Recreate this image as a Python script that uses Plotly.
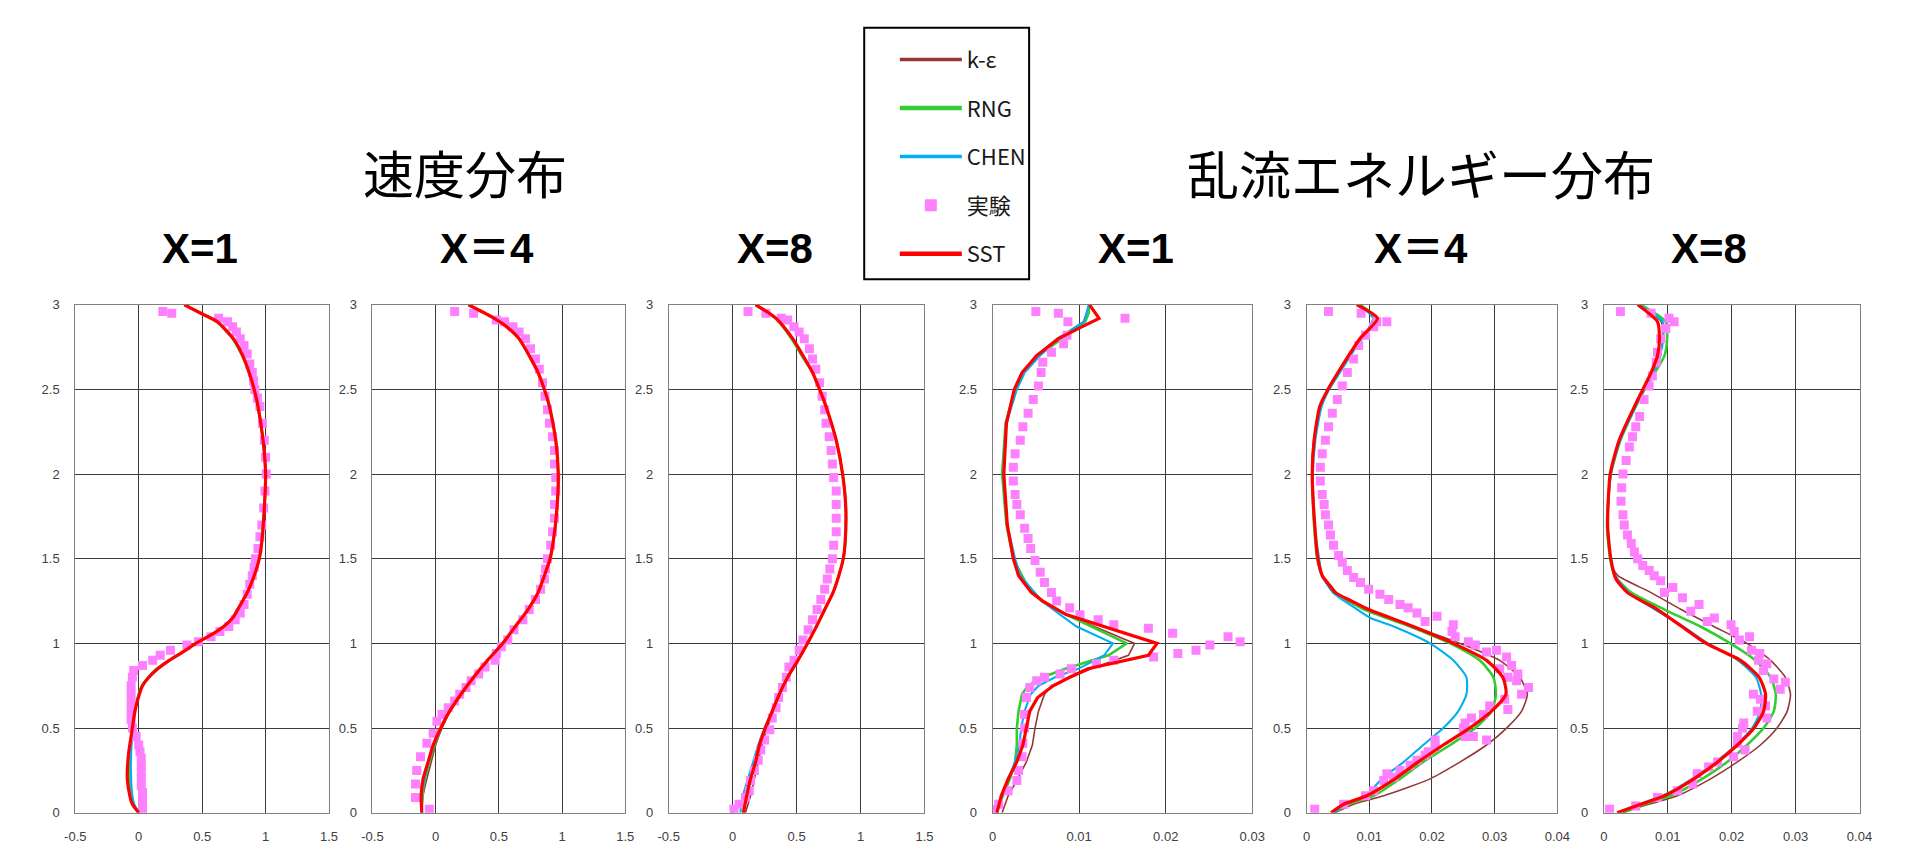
import plotly.graph_objects as go

W, H = 1906, 853

# ---------------- data (y, x) pairs ----------------
# Panel 1: velocity X=1
p1_ke = [(0,0.0),(0.05,-0.045),(0.1,-0.065),(0.2,-0.08),(0.35,-0.075),(0.5,-0.05),(0.6,-0.03),(0.7,0.0),(0.75,0.03),(0.8,0.08),(0.85,0.15),(0.9,0.24),(0.95,0.35),(1.0,0.45),(1.05,0.57),(1.1,0.67),(1.15,0.74),(1.2,0.78),(1.3,0.855),(1.4,0.91),(1.5,0.95),(1.6,0.97),(1.8,0.99),(2.0,1.0),(2.2,0.98),(2.4,0.94),(2.5,0.91),(2.6,0.87),(2.7,0.82),(2.8,0.745),(2.9,0.62),(2.95,0.49),(3.0,0.36)]
p1_rng = [(0,0.0),(0.05,-0.04),(0.1,-0.06),(0.2,-0.075),(0.35,-0.07),(0.5,-0.05),(0.6,-0.03),(0.7,0.0),(0.75,0.025),(0.8,0.075),(0.85,0.14),(0.9,0.24),(0.95,0.345),(1.0,0.45),(1.05,0.57),(1.1,0.67),(1.15,0.74),(1.2,0.78),(1.3,0.855),(1.4,0.91),(1.5,0.95),(1.6,0.97),(1.8,0.99),(2.0,1.0),(2.2,0.98),(2.4,0.94),(2.5,0.91),(2.6,0.87),(2.7,0.815),(2.8,0.74),(2.9,0.615),(2.95,0.49),(3.0,0.36)]
p1_chen = [(0,0.0),(0.05,-0.035),(0.1,-0.05),(0.2,-0.06),(0.35,-0.06),(0.5,-0.045),(0.6,-0.03),(0.7,0.0),(0.75,0.03),(0.8,0.08),(0.85,0.15),(0.9,0.245),(0.95,0.35),(1.0,0.45),(1.05,0.57),(1.1,0.67),(1.15,0.74),(1.2,0.78),(1.3,0.855),(1.4,0.91),(1.5,0.95),(1.6,0.97),(1.8,0.99),(2.0,1.0),(2.2,0.98),(2.4,0.94),(2.5,0.91),(2.6,0.87),(2.7,0.82),(2.8,0.75),(2.9,0.62),(2.95,0.49),(3.0,0.36)]
p1_sst = [(0,0.0),(0.05,-0.05),(0.1,-0.07),(0.2,-0.09),(0.35,-0.08),(0.5,-0.05),(0.6,-0.03),(0.7,0.005),(0.75,0.03),(0.8,0.08),(0.85,0.15),(0.9,0.24),(0.95,0.35),(1.0,0.45),(1.05,0.57),(1.1,0.67),(1.15,0.74),(1.2,0.78),(1.3,0.855),(1.4,0.91),(1.5,0.95),(1.6,0.97),(1.8,0.99),(2.0,1.0),(2.2,0.98),(2.4,0.94),(2.5,0.91),(2.6,0.87),(2.7,0.82),(2.8,0.745),(2.9,0.62),(2.95,0.49),(3.0,0.36)]
p1_exp = [(0.0,0.03),(0.04,0.03),(0.08,0.03),(0.12,0.03),(0.16,0.02),(0.2,0.02),(0.24,0.02),(0.28,0.02),(0.32,0.02),(0.36,0.01),(0.4,0.0),(0.45,-0.02),(0.5,-0.05),(0.55,-0.06),(0.6,-0.06),(0.65,-0.06),(0.7,-0.06),(0.75,-0.06),(0.8,-0.05),(0.84,-0.04),(0.87,0.03),(0.9,0.11),(0.93,0.17),(0.96,0.25),(0.99,0.38),(1.01,0.47),(1.04,0.57),(1.07,0.64),(1.1,0.71),(1.14,0.76),(1.18,0.8),(1.23,0.83),(1.29,0.855),(1.35,0.875),(1.4,0.895),(1.45,0.91),(1.5,0.92),(1.56,0.94),(1.63,0.955),(1.7,0.97),(1.8,0.985),(1.9,0.995),(2.0,1.005),(2.1,1.0),(2.2,0.99),(2.3,0.975),(2.4,0.955),(2.45,0.935),(2.5,0.915),(2.55,0.905),(2.6,0.895),(2.65,0.875),(2.71,0.855),(2.76,0.83),(2.8,0.8),(2.84,0.77),(2.87,0.74),(2.9,0.7),(2.92,0.63),(2.95,0.26),(2.96,0.19)]

# Panel 2: velocity X=4
p2_common = [(0.6,0.11),(0.7,0.2),(0.8,0.3),(0.9,0.41),(1.0,0.53),(1.1,0.63),(1.2,0.73),(1.3,0.81),(1.4,0.86),(1.5,0.905),(1.6,0.93),(1.8,0.96),(2.0,0.97),(2.2,0.95),(2.4,0.9),(2.5,0.86),(2.6,0.81),(2.7,0.74),(2.8,0.66),(2.88,0.545),(2.93,0.44),(3.0,0.26)]
p2_ke = [(0,-0.11),(0.1,-0.1),(0.2,-0.07),(0.3,-0.035),(0.4,0.0),(0.5,0.05)] + [(0.6,0.115)] + p2_common[1:]
p2_rng = [(0,-0.11),(0.1,-0.105),(0.2,-0.085),(0.3,-0.05),(0.4,-0.01),(0.5,0.045)] + p2_common
p2_chen = [(0,-0.11),(0.1,-0.11),(0.2,-0.09),(0.3,-0.055),(0.4,-0.015),(0.5,0.045)] + p2_common
p2_sst = [(0,-0.11),(0.1,-0.115),(0.2,-0.1),(0.3,-0.06),(0.4,-0.02),(0.5,0.04)] + p2_common
p2_exp = [(0.02,-0.05),(0.09,-0.16),(0.17,-0.16),(0.25,-0.15),(0.33,-0.12),(0.41,-0.07),(0.47,-0.02),(0.54,0.01),(0.58,0.05),(0.62,0.1),(0.66,0.15),(0.7,0.19),(0.74,0.24),(0.78,0.28),(0.82,0.34),(0.86,0.39),(0.9,0.47),(0.94,0.48),(0.98,0.52),(1.02,0.57),(1.08,0.62),(1.14,0.69),(1.2,0.74),(1.26,0.79),(1.32,0.83),(1.38,0.86),(1.44,0.87),(1.5,0.885),(1.58,0.91),(1.66,0.925),(1.74,0.94),(1.82,0.94),(1.9,0.95),(1.98,0.95),(2.06,0.94),(2.14,0.94),(2.22,0.925),(2.3,0.9),(2.38,0.885),(2.46,0.865),(2.54,0.845),(2.62,0.82),(2.68,0.79),(2.74,0.75),(2.8,0.71),(2.84,0.66),(2.87,0.61),(2.9,0.545),(2.91,0.48),(2.95,0.3),(2.96,0.15)]

# Panel 3: velocity X=8
p3_common = [(0.6,0.31),(0.7,0.365),(0.8,0.43),(0.9,0.51),(1.0,0.585),(1.1,0.655),(1.2,0.72),(1.3,0.785),(1.4,0.83),(1.5,0.865),(1.6,0.88),(1.8,0.885),(2.0,0.86),(2.2,0.81),(2.4,0.73),(2.5,0.68),(2.6,0.625),(2.7,0.55),(2.8,0.47),(2.92,0.34),(3.0,0.18)]
p3_ke = [(0,0.1),(0.1,0.14),(0.2,0.17),(0.3,0.2),(0.4,0.23),(0.5,0.27),(0.6,0.32),(0.7,0.37)] + p3_common[2:]
p3_rng = [(0,0.08),(0.1,0.105),(0.2,0.135),(0.3,0.175),(0.4,0.21),(0.5,0.255)] + p3_common[:-4] + [(2.7,0.54),(2.8,0.46),(2.92,0.335),(3.0,0.18)]
p3_chen = [(0,0.06),(0.1,0.08),(0.2,0.12),(0.3,0.16),(0.4,0.2),(0.5,0.25)] + p3_common
p3_sst = [(0,0.085),(0.1,0.11),(0.2,0.14),(0.3,0.18),(0.4,0.21),(0.5,0.255)] + p3_common
p3_exp = [(0.02,0.01),(0.05,0.05),(0.09,0.1),(0.13,0.13),(0.19,0.14),(0.25,0.17),(0.31,0.2),(0.37,0.22),(0.43,0.25),(0.49,0.29),(0.56,0.31),(0.62,0.34),(0.68,0.36),(0.74,0.39),(0.8,0.42),(0.86,0.44),(0.9,0.48),(0.96,0.52),(1.02,0.55),(1.08,0.59),(1.14,0.625),(1.2,0.66),(1.26,0.69),(1.32,0.72),(1.38,0.74),(1.44,0.76),(1.5,0.78),(1.58,0.79),(1.66,0.81),(1.74,0.81),(1.82,0.81),(1.9,0.81),(1.98,0.79),(2.06,0.78),(2.14,0.77),(2.22,0.755),(2.3,0.73),(2.38,0.72),(2.46,0.7),(2.54,0.68),(2.62,0.65),(2.68,0.625),(2.74,0.6),(2.8,0.56),(2.84,0.52),(2.87,0.48),(2.91,0.43),(2.92,0.38),(2.95,0.26),(2.96,0.12)]

# Panel 4: turbulent energy X=1
p4_ke = [(0,0.0011),(0.1,0.0018),(0.2,0.0029),(0.3,0.0039),(0.4,0.0046),(0.5,0.0049),(0.6,0.0053),(0.7,0.006),(0.75,0.0068),(0.8,0.0091),(0.85,0.0114),(0.93,0.0157),(1.0,0.0164),(1.17,0.0085),(1.25,0.0058),(1.3,0.0045),(1.4,0.003),(1.5,0.0024),(1.7,0.0017),(2.0,0.0013),(2.3,0.0016),(2.5,0.0025),(2.6,0.0034),(2.7,0.005),(2.8,0.0075),(2.9,0.0105),(3.0,0.0112)]
p4_rng = [(0,0.0003),(0.1,0.0012),(0.2,0.002),(0.3,0.0026),(0.4,0.0028),(0.5,0.0028),(0.6,0.003),(0.7,0.0034),(0.75,0.0041),(0.8,0.0058),(0.85,0.0084),(0.93,0.0134),(1.0,0.0155),(1.17,0.0085),(1.25,0.0057),(1.35,0.0039),(1.5,0.0024),(1.7,0.0016),(2.0,0.0011),(2.3,0.0015),(2.5,0.0026),(2.6,0.0035),(2.7,0.0053),(2.8,0.008),(2.9,0.0107),(2.95,0.0111),(3.0,0.0112)]
p4_chen = [(0,0.0005),(0.1,0.0011),(0.2,0.0018),(0.3,0.0026),(0.4,0.0031),(0.5,0.0033),(0.6,0.0037),(0.7,0.0044),(0.75,0.0053),(0.8,0.0072),(0.85,0.0099),(0.93,0.0129),(1.0,0.0139),(1.1,0.0097),(1.17,0.0078),(1.25,0.0057),(1.4,0.0032),(1.5,0.0026),(1.7,0.0017),(2.0,0.0012),(2.3,0.0016),(2.5,0.0028),(2.6,0.0037),(2.7,0.0055),(2.8,0.0075),(2.9,0.0106),(3.0,0.0111)]
p4_sst = [(0,0.0005),(0.1,0.001),(0.2,0.0018),(0.3,0.0028),(0.4,0.0035),(0.5,0.0039),(0.6,0.0043),(0.68,0.0052),(0.75,0.007),(0.8,0.0089),(0.85,0.011),(0.93,0.018),(1.0,0.019),(1.17,0.0085),(1.25,0.0058),(1.3,0.0045),(1.4,0.003),(1.5,0.0024),(1.7,0.0017),(2.0,0.0013),(2.3,0.0016),(2.5,0.0025),(2.6,0.0034),(2.7,0.0051),(2.8,0.0076),(2.87,0.0103),(2.92,0.0123),(3.0,0.0112)]
p4_exp = [(0.02,0.0),(0.05,0.0007),(0.13,0.0018),(0.19,0.0028),(0.25,0.003),(0.33,0.0034),(0.41,0.0035),(0.5,0.0037),(0.58,0.0037),(0.68,0.0039),(0.74,0.0043),(0.78,0.0051),(0.8,0.006),(0.82,0.0078),(0.85,0.0091),(0.88,0.012),(0.9,0.014),(0.92,0.0186),(0.94,0.0214),(0.96,0.0235),(0.99,0.0251),(1.01,0.0286),(1.04,0.0272),(1.06,0.0208),(1.09,0.018),(1.11,0.014),(1.14,0.0122),(1.17,0.0101),(1.21,0.0089),(1.25,0.0074),(1.3,0.0068),(1.36,0.006),(1.42,0.0055),(1.49,0.0049),(1.56,0.0044),(1.62,0.0041),(1.68,0.0037),(1.76,0.0032),(1.82,0.0028),(1.88,0.0026),(1.96,0.0024),(2.04,0.0024),(2.12,0.0026),(2.2,0.0032),(2.28,0.0035),(2.36,0.0041),(2.44,0.0047),(2.52,0.0053),(2.6,0.0056),(2.66,0.0058),(2.72,0.0068),(2.77,0.0082),(2.82,0.0086),(2.9,0.0087),(2.95,0.0076),(2.96,0.005),(2.92,0.0153)]

# Panel 5: turbulent energy X=4
p5_ke = [(0,0.0045),(0.05,0.0075),(0.1,0.0123),(0.2,0.0197),(0.3,0.0245),(0.4,0.0287),(0.5,0.0319),(0.6,0.0343),(0.7,0.0352),(0.8,0.034),(0.9,0.0308),(1.0,0.0245),(1.1,0.017),(1.2,0.0095),(1.25,0.0065),(1.3,0.0048),(1.35,0.0037),(1.4,0.0026),(1.5,0.0019),(1.7,0.0013),(2.0,0.001),(2.2,0.0013),(2.4,0.0022),(2.5,0.0034),(2.6,0.005),(2.7,0.0067),(2.8,0.0086),(2.92,0.0112),(3.0,0.0081)]
p5_rng = [(0,0.0045),(0.05,0.0065),(0.1,0.0107),(0.2,0.0149),(0.3,0.0186),(0.4,0.0229),(0.5,0.0269),(0.6,0.0295),(0.7,0.0302),(0.8,0.0298),(0.9,0.0276),(1.0,0.0229),(1.1,0.0165),(1.2,0.0092),(1.25,0.0068),(1.3,0.0046),(1.35,0.0034),(1.4,0.0025),(1.5,0.0017),(1.7,0.0012),(2.0,0.0009),(2.2,0.0012),(2.4,0.0022),(2.5,0.0035),(2.6,0.0052),(2.7,0.0069),(2.8,0.0087),(2.92,0.0111),(3.0,0.0085)]
p5_chen = [(0,0.0045),(0.05,0.0062),(0.1,0.0094),(0.2,0.012),(0.3,0.0155),(0.4,0.0186),(0.5,0.0218),(0.6,0.0242),(0.7,0.0255),(0.8,0.0255),(0.9,0.0234),(1.0,0.0197),(1.1,0.0139),(1.15,0.0102),(1.2,0.0081),(1.3,0.0042),(1.4,0.0025),(1.5,0.002),(1.7,0.0013),(2.0,0.001),(2.2,0.0014),(2.4,0.0024),(2.5,0.0036),(2.6,0.0053),(2.7,0.007),(2.8,0.0088),(2.92,0.0106),(3.0,0.0083)]
p5_sst = [(0,0.0039),(0.05,0.0059),(0.1,0.0096),(0.2,0.0141),(0.3,0.0178),(0.4,0.0218),(0.5,0.026),(0.6,0.0295),(0.7,0.0318),(0.8,0.0313),(0.9,0.0287),(1.0,0.0234),(1.1,0.017),(1.2,0.0099),(1.25,0.0072),(1.3,0.0046),(1.35,0.0035),(1.4,0.0025),(1.5,0.0018),(1.7,0.0013),(2.0,0.0009),(2.2,0.0012),(2.4,0.0021),(2.5,0.0034),(2.6,0.005),(2.7,0.0067),(2.8,0.0085),(2.92,0.0113),(3.0,0.008)]
p5_exp = [(0.02,0.0013),(0.05,0.0059),(0.1,0.0094),(0.13,0.0107),(0.19,0.0123),(0.23,0.0128),(0.21,0.0139),(0.25,0.0149),(0.28,0.0165),(0.31,0.0176),(0.34,0.0189),(0.36,0.0194),(0.39,0.0205),(0.43,0.0205),(0.45,0.0253),(0.45,0.0266),(0.43,0.0287),(0.5,0.025),(0.53,0.0253),(0.56,0.0263),(0.58,0.0282),(0.63,0.0292),(0.61,0.0321),(0.67,0.0316),(0.7,0.0343),(0.74,0.0354),(0.78,0.0335),(0.8,0.0321),(0.82,0.0337),(0.85,0.0308),(0.87,0.0327),(0.92,0.0319),(0.96,0.0303),(0.95,0.0287),(0.99,0.0269),(1.01,0.0258),(1.04,0.0237),(1.07,0.0232),(1.11,0.0234),(1.16,0.0208),(1.13,0.0189),(1.18,0.0176),(1.21,0.0162),(1.23,0.0149),(1.26,0.0131),(1.29,0.0117),(1.32,0.0099),(1.36,0.0086),(1.39,0.0075),(1.43,0.0065),(1.48,0.0057),(1.52,0.0051),(1.58,0.0043),(1.64,0.0038),(1.7,0.0035),(1.76,0.003),(1.82,0.0028),(1.88,0.0025),(1.96,0.0022),(2.04,0.0022),(2.12,0.0025),(2.2,0.003),(2.28,0.0035),(2.36,0.0041),(2.44,0.0049),(2.52,0.0057),(2.6,0.0065),(2.68,0.0075),(2.76,0.0083),(2.82,0.0094),(2.87,0.0107),(2.9,0.0112),(2.9,0.0128),(2.95,0.0087),(2.96,0.0035)]

# Panel 6: turbulent energy X=8
p6_ke = [(0,0.003),(0.05,0.007),(0.1,0.0115),(0.2,0.0167),(0.3,0.0209),(0.4,0.0245),(0.5,0.0271),(0.6,0.0287),(0.7,0.0292),(0.8,0.0284),(0.9,0.0261),(1.0,0.0224),(1.1,0.0172),(1.2,0.0121),(1.3,0.0074),(1.4,0.0022),(1.45,0.0014),(1.5,0.0011),(1.7,0.0006),(2.0,0.001),(2.2,0.0025),(2.4,0.0049),(2.5,0.0062),(2.6,0.0076),(2.7,0.0088),(2.8,0.0092),(2.9,0.009),(3.0,0.0055)]
p6_rng = [(0,0.003),(0.05,0.0062),(0.1,0.0105),(0.2,0.0154),(0.3,0.0193),(0.4,0.0224),(0.5,0.025),(0.6,0.0266),(0.7,0.0269),(0.8,0.0261),(0.9,0.0237),(1.0,0.0198),(1.1,0.0151),(1.2,0.0095),(1.3,0.0043),(1.4,0.0017),(1.5,0.001),(1.7,0.0005),(2.0,0.0011),(2.2,0.0026),(2.4,0.005),(2.5,0.0064),(2.6,0.008),(2.7,0.0095),(2.8,0.0099),(2.9,0.0097),(3.0,0.0058)]
p6_chen = [(0,0.0021),(0.05,0.0055),(0.1,0.0092),(0.2,0.0138),(0.3,0.0175),(0.4,0.0207),(0.5,0.0232),(0.6,0.0245),(0.7,0.0246),(0.8,0.0238),(0.9,0.021),(1.0,0.0163),(1.1,0.0124),(1.2,0.008),(1.3,0.0039),(1.4,0.0018),(1.5,0.0011),(1.7,0.0006),(2.0,0.0011),(2.2,0.0026),(2.4,0.005),(2.5,0.0063),(2.6,0.0077),(2.7,0.0088),(2.8,0.0093),(2.9,0.0092),(3.0,0.0055)]
p6_sst = [(0,0.0021),(0.05,0.0058),(0.1,0.0095),(0.2,0.0141),(0.3,0.0178),(0.4,0.0209),(0.5,0.0235),(0.6,0.025),(0.7,0.0253),(0.8,0.0243),(0.9,0.0214),(1.0,0.016),(1.1,0.0122),(1.2,0.0084),(1.3,0.0037),(1.38,0.0019),(1.5,0.0011),(1.7,0.0006),(2.0,0.001),(2.2,0.0024),(2.4,0.0048),(2.5,0.0061),(2.6,0.0074),(2.7,0.0084),(2.8,0.0087),(2.9,0.0084),(3.0,0.0053)]
p6_exp = [(0.02,0.0009),(0.04,0.005),(0.09,0.0084),(0.13,0.0115),(0.17,0.0139),(0.23,0.0146),(0.27,0.0164),(0.3,0.0178),(0.33,0.0203),(0.37,0.0221),(0.41,0.0209),(0.45,0.0209),(0.5,0.0217),(0.53,0.0219),(0.56,0.0255),(0.6,0.024),(0.67,0.0245),(0.7,0.0234),(0.63,0.0253),(0.73,0.0276),(0.77,0.0284),(0.79,0.0266),(0.84,0.025),(0.9,0.0242),(0.88,0.0255),(0.96,0.0231),(0.94,0.0244),(1.04,0.0228),(1.02,0.0212),(1.07,0.0204),(1.11,0.0199),(1.15,0.0173),(1.13,0.0162),(1.23,0.0149),(1.19,0.0136),(1.27,0.0123),(1.33,0.0108),(1.3,0.0095),(1.37,0.0089),(1.4,0.0079),(1.43,0.0071),(1.46,0.0061),(1.5,0.0053),(1.54,0.0048),(1.59,0.0043),(1.64,0.0037),(1.7,0.0032),(1.76,0.003),(1.84,0.0027),(1.92,0.0028),(2.0,0.003),(2.08,0.0035),(2.16,0.004),(2.22,0.0045),(2.28,0.005),(2.34,0.0056),(2.44,0.0063),(2.52,0.0071),(2.58,0.0076),(2.66,0.0082),(2.72,0.0084),(2.8,0.0089),(2.86,0.0097),(2.9,0.011),(2.92,0.0102),(2.95,0.0074),(2.96,0.0026)]

series_names = ["k-ε", "RNG", "CHEN", "実験", "SST"]
vel_ticks = [-0.5, 0, 0.5, 1, 1.5]
vel_ticktext = ["-0.5", "0", "0.5", "1", "1.5"]
y_ticks = [0, 0.5, 1, 1.5, 2, 2.5, 3]
y_ticktext = ["0", "0.5", "1", "1.5", "2", "2.5", "3"]
panel_titles = ["X=1", "X＝4", "X=8", "X=1", "X＝4", "X=8"]
group_titles = ["速度分布", "乱流エネルギー分布"]

# ---------------- styles ----------------
C_KE, C_RNG, C_CHEN, C_EXP, C_SST = "#953735", "#33cc33", "#00b0f0", "#ff80ff", "#ff0000"
W_KE, W_RNG, W_CHEN, W_SST = 1.6, 2.6, 2.1, 3.2

# pixel layout of the six plot areas
px_left = [57, 358, 658, 986, 1304, 1605]
px_right = [314, 614, 917, 1249, 1558, 1864]
py_top, py_bot = 295, 812
x_ranges = [[-0.5, 1.5], [-0.5, 1.5], [-0.5, 1.5], [0, 0.03], [0, 0.04], [0, 0.04]]
title_cx = [183, 474, 766, 1131, 1420, 1712]
group_cx = [452, 1420]

panels = [
    (p1_ke, p1_rng, p1_chen, p1_exp, p1_sst),
    (p2_ke, p2_rng, p2_chen, p2_exp, p2_sst),
    (p3_ke, p3_rng, p3_chen, p3_exp, p3_sst),
    (p4_ke, p4_rng, p4_chen, p4_exp, p4_sst),
    (p5_ke, p5_rng, p5_chen, p5_exp, p5_sst),
    (p6_ke, p6_rng, p6_chen, p6_exp, p6_sst),
]

def unzip(pairs):
    return [p[1] for p in pairs], [p[0] for p in pairs]

fig = go.Figure()

# legend-only entries
leg_font = dict(family="Noto Sans CJK JP", size=22, color="#1a1a1a")
fig.add_trace(go.Scatter(x=[None], y=[None], mode="lines", name=series_names[0], line=dict(color=C_KE, width=3.5), legendgroup="a"))
fig.add_trace(go.Scatter(x=[None], y=[None], mode="lines", name=series_names[1], line=dict(color=C_RNG, width=4.5), legendgroup="b"))
fig.add_trace(go.Scatter(x=[None], y=[None], mode="lines", name=series_names[2], line=dict(color=C_CHEN, width=3.5), legendgroup="c"))
fig.add_trace(go.Scatter(x=[None], y=[None], mode="markers", name=series_names[3], marker=dict(color=C_EXP, symbol="square", size=12), legendgroup="d"))
fig.add_trace(go.Scatter(x=[None], y=[None], mode="lines", name=series_names[4], line=dict(color=C_SST, width=4.5), legendgroup="e"))

for i, (ke, rng, chen, exp, sst) in enumerate(panels):
    xa = "x" if i == 0 else f"x{i+1}"
    ya = "y" if i == 0 else f"y{i+1}"
    shape = "linear" if i == 3 else "spline"
    for data, col, wd in [(ke, C_KE, W_KE), (rng, C_RNG, W_RNG), (chen, C_CHEN, W_CHEN)]:
        xs, ys = unzip(data)
        fig.add_trace(go.Scatter(x=xs, y=ys, xaxis=xa, yaxis=ya, mode="lines", showlegend=False,
                                 line=dict(color=col, width=wd, shape=shape, smoothing=0.6), hoverinfo="skip"))
    xs, ys = unzip(exp)
    fig.add_trace(go.Scatter(x=xs, y=ys, xaxis=xa, yaxis=ya, mode="markers", showlegend=False,
                             marker=dict(color=C_EXP, symbol="square", size=9, line=dict(width=0)), hoverinfo="skip"))
    xs, ys = unzip(sst)
    fig.add_trace(go.Scatter(x=xs, y=ys, xaxis=xa, yaxis=ya, mode="lines", showlegend=False,
                             line=dict(color=C_SST, width=W_SST, shape=shape, smoothing=0.6), hoverinfo="skip"))

layout = dict(
    width=W, height=H, autosize=False,
    margin=dict(l=0, r=0, t=0, b=0),
    paper_bgcolor="white", plot_bgcolor="white",
    showlegend=True,
    legend=dict(x=887 / W, xanchor="left", y=1 - 24 / H, yanchor="top",
                font=leg_font, bgcolor="rgba(0,0,0,0)", borderwidth=0,
                tracegroupgap=17, itemwidth=62, traceorder="grouped"),
)

tick_font = dict(family="Liberation Sans", size=13, color="#404040")
for i in range(6):
    sfx = "" if i == 0 else str(i + 1)
    xa = dict(domain=[px_left[i] / W, px_right[i] / W], range=x_ranges[i], anchor="y" + sfx,
              showgrid=True, gridcolor="#3a3a3a", gridwidth=1, zeroline=False,
              showline=True, linecolor="#808080", linewidth=1, mirror=True,
              ticks="", tickfont=tick_font, ticklabelstandoff=12, fixedrange=True)
    if i < 3:
        xa.update(tickmode="array", tickvals=vel_ticks, ticktext=vel_ticktext)
    else:
        xa.update(tickmode="linear", tick0=0, dtick=0.01)
    ya = dict(domain=[1 - py_bot / H, 1 - py_top / H], range=[0, 3], anchor="x" + sfx,
              showgrid=True, gridcolor="#3a3a3a", gridwidth=1, zeroline=False,
              showline=True, linecolor="#808080", linewidth=1, mirror=True,
              ticks="", tickfont=tick_font, ticklabelstandoff=12,
              tickmode="array", tickvals=y_ticks, ticktext=y_ticktext, fixedrange=True)
    layout["xaxis" + sfx] = xa
    layout["yaxis" + sfx] = ya

annotations = []
for cx, txt, sz in zip(group_cx, group_titles, [51, 52]):
    annotations.append(dict(x=cx / W, y=1 - 160 / H, xref="paper", yref="paper", text=txt, showarrow=False,
                            xanchor="center", yanchor="middle",
                            font=dict(family="Noto Sans CJK JP", size=sz, color="#000000")))
for cx, txt in zip(title_cx, panel_titles):
    annotations.append(dict(x=cx / W, y=1 - 238 / H, xref="paper", yref="paper", text=txt, showarrow=False,
                            xanchor="center", yanchor="middle",
                            font=dict(family="Liberation Sans, Noto Sans CJK JP", size=42, color="#000000", weight="bold")))
layout["annotations"] = annotations
layout["shapes"] = [dict(type="rect", xref="paper", yref="paper",
                         x0=856 / W, x1=1023 / W, y0=1 - 269 / H, y1=1 - 13 / H,
                         line=dict(color="#000000", width=2), fillcolor="rgba(0,0,0,0)")]

fig.update_layout(**layout)
fig.write_html("out.html")
